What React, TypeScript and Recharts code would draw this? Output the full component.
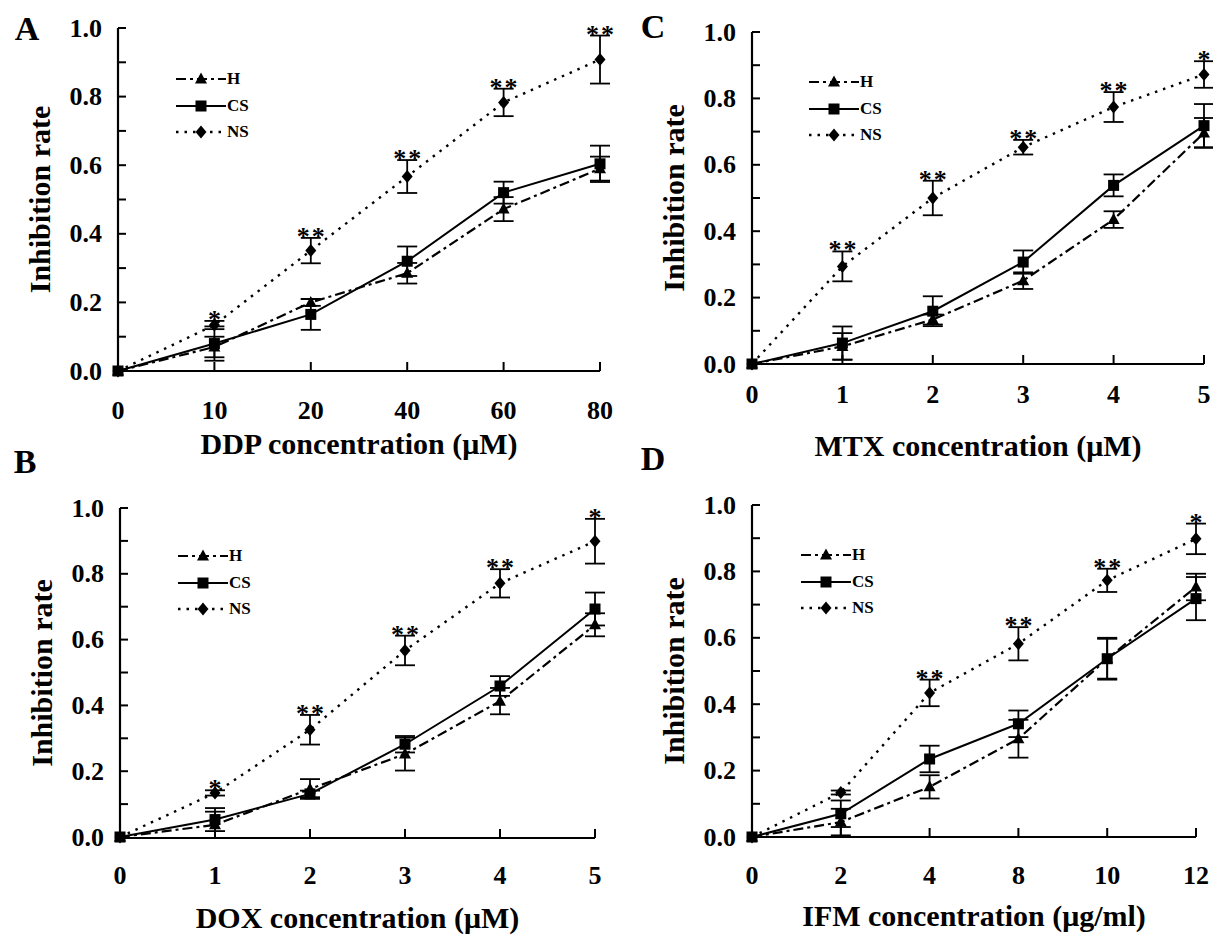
import React from "react";
import {
  LineChart,
  Line,
  XAxis,
  YAxis,
  ErrorBar,
  Legend,
  LabelList,
  Label,
} from "recharts";

const FONT = '"Liberation Serif", "Times New Roman", serif';

// y axis ticks (labels only on the even ones)
const yTicks = [0, 0.1, 0.2, 0.3, 0.4, 0.5, 0.6, 0.7, 0.8, 0.9, 1.0];
const seriesNames = ["H", "CS", "NS"];

// A - DDP
const ddpDoses = ["0", "10", "20", "40", "60", "80"];
const ddpH = [0, 0.07, 0.2, 0.285, 0.472, 0.59];
const ddpHErr = [0, 0.03, 0.01, 0.03, 0.035, 0.035];
const ddpCS = [0, 0.08, 0.165, 0.32, 0.52, 0.604];
const ddpCSErr = [0, 0.05, 0.045, 0.043, 0.032, 0.053];
const ddpNS = [0, 0.134, 0.351, 0.567, 0.783, 0.908];
const ddpNSErr = [0, 0.012, 0.037, 0.048, 0.04, 0.07];
const ddpSig = ["", "*", "**", "**", "**", "**"];

// C - MTX
const mtxDoses = ["0", "1", "2", "3", "4", "5"];
const mtxH = [0, 0.053, 0.134, 0.251, 0.435, 0.696];
const mtxHErr = [0, 0.04, 0.015, 0.025, 0.025, 0.045];
const mtxCS = [0, 0.063, 0.159, 0.307, 0.538, 0.718];
const mtxCSErr = [0, 0.05, 0.045, 0.035, 0.033, 0.065];
const mtxNS = [0, 0.294, 0.5, 0.653, 0.774, 0.872];
const mtxNSErr = [0, 0.045, 0.052, 0.022, 0.045, 0.04];
const mtxSig = ["", "**", "**", "**", "**", "*"];

// B - DOX
const doxDoses = ["0", "1", "2", "3", "4", "5"];
const doxH = [0, 0.037, 0.146, 0.252, 0.413, 0.645];
const doxHErr = [0, 0.04, 0.03, 0.05, 0.04, 0.035];
const doxCS = [0, 0.053, 0.131, 0.282, 0.459, 0.693];
const doxCSErr = [0, 0.035, 0.01, 0.025, 0.03, 0.05];
const doxNS = [0, 0.134, 0.326, 0.567, 0.771, 0.899];
const doxNSErr = [0, 0.008, 0.045, 0.045, 0.043, 0.068];
const doxSig = ["", "*", "**", "**", "**", "*"];

// D - IFM
const ifmDoses = ["0", "2", "4", "8", "10", "12"];
const ifmH = [0, 0.045, 0.151, 0.296, 0.537, 0.753];
const ifmHErr = [0, 0.04, 0.035, 0.057, 0.06, 0.04];
const ifmCS = [0, 0.07, 0.235, 0.341, 0.537, 0.718];
const ifmCSErr = [0, 0.04, 0.04, 0.04, 0.063, 0.065];
const ifmNS = [0, 0.134, 0.434, 0.582, 0.773, 0.898];
const ifmNSErr = [0, 0.006, 0.04, 0.05, 0.035, 0.046];
const ifmSig = ["", "", "**", "**", "**", "*"];

const H_DASH = "10 4 3 4";
const NS_DASH = "2.5 6";

const Triangle = ({ cx, cy }: any) => (
  <polygon
    points={`${cx},${cy - 6.5} ${cx + 6},${cy + 4.5} ${cx - 6},${cy + 4.5}`}
    fill="#000"
  />
);

const Square = ({ cx, cy }: any) => (
  <rect x={cx - 5.5} y={cy - 5.5} width={11} height={11} fill="#000" />
);

const Diamond = ({ cx, cy }: any) => (
  <polygon
    points={`${cx},${cy - 6.5} ${cx + 5.5},${cy} ${cx},${cy + 6.5} ${cx - 5.5},${cy}`}
    fill="#000"
  />
);

const legendRows = [
  { name: seriesNames[0], dash: H_DASH, width: 2.2, Mark: Triangle },
  { name: seriesNames[1], dash: undefined, width: 2, Mark: Square },
  { name: seriesNames[2], dash: NS_DASH, width: 2.4, Mark: Diamond },
];

const LegendBox = () => (
  <div style={{ fontFamily: FONT, fontWeight: 700, fontSize: 17 }}>
    {legendRows.map((r) => (
      <div
        key={r.name}
        style={{ display: "flex", alignItems: "center", height: 26.5 }}
      >
        <svg width={50} height={20}>
          <line
            x1={0}
            y1={10}
            x2={50}
            y2={10}
            stroke="#000"
            strokeWidth={r.width}
            strokeDasharray={r.dash}
          />
          <r.Mark cx={25} cy={10} />
        </svg>
        <span style={{ marginLeft: 1 }}>{r.name}</span>
      </div>
    ))}
  </div>
);

const YTick = ({ x, y, payload }: any) => {
  const v = payload.value;
  const major = Math.round(v * 10) % 2 === 0;
  return (
    <g>
      {v > 0 && (
        <line x1={x} y1={y} x2={x + 8} y2={y} stroke="#000" strokeWidth={2} />
      )}
      {major && (
        <text
          x={x - 16}
          y={y}
          textAnchor="end"
          dominantBaseline="central"
          fontFamily={FONT}
          fontWeight={700}
          fontSize={26}
          fill="#000"
        >
          {v.toFixed(1)}
        </text>
      )}
    </g>
  );
};

const XTick = ({ x, y, payload, index, dy }: any) => (
  <g>
    {index > 0 && (
      <line x1={x} y1={y} x2={x} y2={y - 9} stroke="#000" strokeWidth={2} />
    )}
    <text
      x={x}
      y={y + dy}
      textAnchor="middle"
      dominantBaseline="central"
      fontFamily={FONT}
      fontWeight={700}
      fontSize={26}
      fill="#000"
    >
      {payload.value}
    </text>
  </g>
);

// one glyph per star so the pair is spaced like the original
const StarLabel = ({ x, y, value }: any) => {
  if (!value) return null;
  const stars = String(value).split("");
  const gap = 15;
  return (
    <g>
      {stars.map((s, i) => (
        <text
          key={i}
          x={x + (i - (stars.length - 1) / 2) * gap}
          y={y + 7}
          textAnchor="middle"
          fontFamily={FONT}
          fontWeight={700}
          fontSize={26}
          fill="#000"
        >
          {s}
        </text>
      ))}
    </g>
  );
};

interface PanelProps {
  letter: string;
  title: string;
  doses: string[];
  h: number[];
  hErr: number[];
  cs: number[];
  csErr: number[];
  ns: number[];
  nsErr: number[];
  sig: string[];
  box: { left: number; top: number; width: number; height: number };
  plot: { l: number; t: number; r: number; b: number };
  tickDy: number;
  titleDy: number;
  letterPos: { x: number; y: number };
  legendPos: { x: number; y: number };
}

const Panel = ({
  letter,
  title,
  doses,
  h,
  hErr,
  cs,
  csErr,
  ns,
  nsErr,
  sig,
  box,
  plot,
  tickDy,
  titleDy,
  letterPos,
  legendPos,
}: PanelProps) => {
  const rows = doses.map((d, i) => ({
    dose: d,
    h: h[i],
    hErr: hErr[i],
    cs: cs[i],
    csErr: csErr[i],
    ns: ns[i],
    nsErr: nsErr[i],
    top: ns[i] + nsErr[i],
    sig: sig[i],
  }));
  const ox = box.left;
  const oy = box.top;

  return (
    <div style={{ position: "absolute", left: box.left, top: box.top }}>
      <LineChart
        width={box.width}
        height={box.height}
        data={rows}
        margin={{
          top: plot.t - oy,
          right: ox + box.width - plot.r,
          bottom: 0,
          left: 0,
        }}
      >
        <XAxis
          dataKey="dose"
          scale="point"
          padding={{ left: 0, right: 0 }}
          height={oy + box.height - plot.b}
          interval={0}
          tickSize={0}
          tickMargin={0}
          tickLine={false}
          axisLine={{ stroke: "#000", strokeWidth: 2.2 }}
          tick={<XTick dy={tickDy} />}
        >
          <Label
            content={() => (
              <text
                x={(plot.l + plot.r) / 2 - ox}
                y={plot.b - oy + titleDy}
                textAnchor="middle"
                dominantBaseline="central"
                fontFamily={FONT}
                fontWeight={700}
                fontSize={30}
                fill="#000"
              >
                {title}
              </text>
            )}
          />
        </XAxis>
        <YAxis
          type="number"
          domain={[0, 1]}
          ticks={yTicks}
          interval={0}
          width={plot.l - ox}
          tickSize={0}
          tickMargin={0}
          tickLine={false}
          axisLine={{ stroke: "#000", strokeWidth: 2.2 }}
          tick={<YTick />}
        >
          <Label
            content={() => {
              const cx = plot.l - 79 - ox;
              const cy = (plot.t + plot.b) / 2 - oy;
              return (
                <g>
                  <text
                    x={cx}
                    y={cy}
                    transform={`rotate(-90, ${cx}, ${cy})`}
                    textAnchor="middle"
                    dominantBaseline="central"
                    fontFamily={FONT}
                    fontWeight={700}
                    fontSize={30}
                    fill="#000"
                  >
                    Inhibition rate
                  </text>
                  <text
                    x={letterPos.x - ox}
                    y={letterPos.y - oy}
                    textAnchor="middle"
                    dominantBaseline="central"
                    fontFamily={FONT}
                    fontWeight={700}
                    fontSize={34}
                    fill="#000"
                  >
                    {letter}
                  </text>
                </g>
              );
            }}
          />
        </YAxis>

        <Legend
          layout="vertical"
          align="center"
          verticalAlign="middle"
          content={<LegendBox />}
          wrapperStyle={{
            left: legendPos.x - ox,
            top: legendPos.y - 13 - oy,
            width: "auto",
            height: "auto",
          }}
        />

        {/* star markers sit just above the NS error bars */}
        <Line
          dataKey="top"
          stroke="none"
          dot={false}
          activeDot={false}
          legendType="none"
          isAnimationActive={false}
        >
          <LabelList dataKey="sig" content={<StarLabel />} />
        </Line>

        <Line
          dataKey="ns"
          name={seriesNames[2]}
          stroke="#000"
          strokeWidth={2.4}
          strokeDasharray={NS_DASH}
          dot={(p: any) => <Diamond key={`ns${p.index}`} cx={p.cx} cy={p.cy} />}
          activeDot={false}
          isAnimationActive={false}
        >
          <ErrorBar
            dataKey="nsErr"
            direction="y"
            width={10}
            strokeWidth={1.8}
            stroke="#000"
          />
        </Line>
        <Line
          dataKey="h"
          name={seriesNames[0]}
          stroke="#000"
          strokeWidth={2.2}
          strokeDasharray={H_DASH}
          dot={(p: any) => <Triangle key={`h${p.index}`} cx={p.cx} cy={p.cy} />}
          activeDot={false}
          isAnimationActive={false}
        >
          <ErrorBar
            dataKey="hErr"
            direction="y"
            width={10}
            strokeWidth={1.8}
            stroke="#000"
          />
        </Line>
        <Line
          dataKey="cs"
          name={seriesNames[1]}
          stroke="#000"
          strokeWidth={2}
          dot={(p: any) => <Square key={`cs${p.index}`} cx={p.cx} cy={p.cy} />}
          activeDot={false}
          isAnimationActive={false}
        >
          <ErrorBar
            dataKey="csErr"
            direction="y"
            width={10}
            strokeWidth={1.8}
            stroke="#000"
          />
        </Line>
      </LineChart>
    </div>
  );
};

export default function App() {
  return (
    <div
      style={{
        position: "absolute",
        left: 0,
        top: 0,
        width: 1213,
        height: 936,
        background: "#fff",
        overflow: "hidden",
      }}
    >
      <Panel
        letter="A"
        title="DDP concentration (μM)"
        doses={ddpDoses}
        h={ddpH}
        hErr={ddpHErr}
        cs={ddpCS}
        csErr={ddpCSErr}
        ns={ddpNS}
        nsErr={ddpNSErr}
        sig={ddpSig}
        box={{ left: 0, top: 0, width: 640, height: 470 }}
        plot={{ l: 118, t: 28, r: 600, b: 371 }}
        tickDy={39}
        titleDy={72}
        letterPos={{ x: 27, y: 28 }}
        legendPos={{ x: 176, y: 79 }}
      />
      <Panel
        letter="C"
        title="MTX concentration (μM)"
        doses={mtxDoses}
        h={mtxH}
        hErr={mtxHErr}
        cs={mtxCS}
        csErr={mtxCSErr}
        ns={mtxNS}
        nsErr={mtxNSErr}
        sig={mtxSig}
        box={{ left: 615, top: 0, width: 598, height: 470 }}
        plot={{ l: 752, t: 32, r: 1204, b: 364 }}
        tickDy={30}
        titleDy={81}
        letterPos={{ x: 653, y: 26 }}
        legendPos={{ x: 809, y: 82 }}
      />
      <Panel
        letter="B"
        title="DOX concentration (μM)"
        doses={doxDoses}
        h={doxH}
        hErr={doxHErr}
        cs={doxCS}
        csErr={doxCSErr}
        ns={doxNS}
        nsErr={doxNSErr}
        sig={doxSig}
        box={{ left: 0, top: 440, width: 640, height: 496 }}
        plot={{ l: 120, t: 508, r: 595, b: 838 }}
        tickDy={37}
        titleDy={79}
        letterPos={{ x: 25, y: 461 }}
        legendPos={{ x: 178, y: 556 }}
      />
      <Panel
        letter="D"
        title="IFM concentration (μg/ml)"
        doses={ifmDoses}
        h={ifmH}
        hErr={ifmHErr}
        cs={ifmCS}
        csErr={ifmCSErr}
        ns={ifmNS}
        nsErr={ifmNSErr}
        sig={ifmSig}
        box={{ left: 615, top: 440, width: 598, height: 496 }}
        plot={{ l: 752, t: 505, r: 1196, b: 837 }}
        tickDy={38}
        titleDy={78}
        letterPos={{ x: 653, y: 458 }}
        legendPos={{ x: 801, y: 555 }}
      />
    </div>
  );
}
